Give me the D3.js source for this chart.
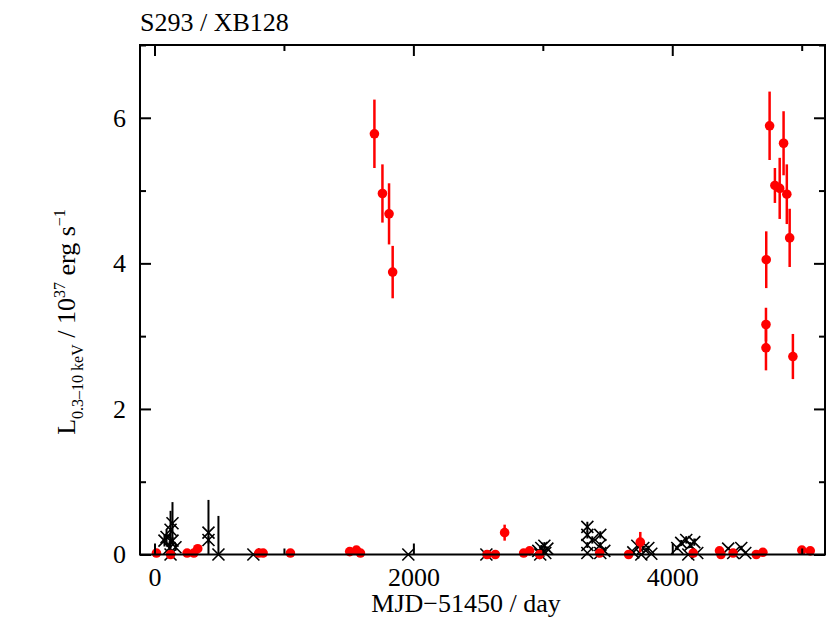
<!DOCTYPE html>
<html><head><meta charset="utf-8">
<script src="https://cdn.jsdelivr.net/npm/d3@7/dist/d3.min.js"></script>
<style>body{margin:0;background:#fff}svg{display:block}text{font-family:"Liberation Serif","Times New Roman",serif;fill:#000}</style>
</head><body><svg id="c" width="830" height="627"></svg>
<script>
// Red: detections (day, L, err)
const redDay = [1699,1761,1812,1840, 4752,4860,4793,4830,4885,4907,4726,4724,4724,4932,
  15,124,252,304,334,806,839,1050,1508,1560,1591,
  2569,2633,2705,2852,2898,2975,3439,
  3663,3753,4162,4365,4376,4470,4649,4700,5001,5066];
const redL = [5.78,4.96,4.68,3.88, 5.89,5.65,5.07,5.03,4.95,4.35,4.05,3.16,2.84,2.72,
  0.02,0.0,0.02,0.02,0.08,0.02,0.02,0.02,0.04,0.06,0.02,
  0.0,0.0,0.30,0.02,0.05,0.0,0.02,
  0.0,0.17,0.02,0.05,0.0,0.02,0.0,0.03,0.06,0.05];
const redErr = [0.47,0.40,0.42,0.36, 0.47,0.44,0.24,0.42,0.41,0.40,0.39,0.23,0.31,0.31,
  0.02,0.02,0.02,0.02,0.03,0.02,0.02,0.02,0.03,0.03,0.02,
  0.02,0.02,0.11,0.02,0.03,0.02,0.02,
  0.02,0.14,0.02,0.03,0.02,0.02,0.02,0.02,0.03,0.03];
// Black crosses (day, L, err)
const crossDay = [77,93,116,124,139,139,162,124, 417,417, 494, 764, 1961, 2564,
  2965,2988,3012,3035,2980,3019,
  3344,3344,3344,3344,3382,3444,3444,3444,3475,
  3699,3730,3776,3815,3761,3838,
  4039,4069,4108,4139,4170,4124,4193,
  4432,4471,4533,4564];
const crossL = [0.19,0.24,0.09,0.34,0.43,0.19,0.10,0.0, 0.30,0.20, 0.0, 0.0, 0.0, 0.0,
  0.05,0.09,0.12,0.08,0.0,0.02,
  0.38,0.27,0.13,0.02,0.20,0.27,0.13,0.02,0.05,
  0.03,0.12,0.09,0.09,0.0,0.01,
  0.09,0.16,0.20,0.13,0.17,0.0,0.02,
  0.08,0.02,0.09,0.02];
const crossErr = [0.08,0.11,0.09,0.26,0.29,0.05,0.05,0.0, 0.45,0.05, 0.53, 0.0, 0.0, 0.0,
  0.02,0.04,0.05,0.03,0.0,0.01,
  0.07,0.05,0.04,0.0,0.05,0.05,0.04,0.0,0.02,
  0.02,0.03,0.03,0.03,0.0,0.0,
  0.03,0.04,0.05,0.04,0.05,0.0,0.0,
  0.02,0.0,0.03,0.0];
const xMajor = [0,2000,4000], xMinor = [1000,3000,5000];
const yMajor = [0,2,4,6], yMinor = [1,3,5,7];

const svg = d3.select("#c");
const L=140,R=825,T=45,B=554.5;
const x = d3.scaleLinear().domain([-112,5180]).range([L,R]);
const y = d3.scaleLinear().domain([0,7]).range([B,T]);

const plot = svg.append("g");
crossDay.forEach((d,i)=>{
  if(crossErr[i]>0) plot.append("line").attr("x1",x(d)).attr("x2",x(d))
    .attr("y1",y(Math.max(0,crossL[i]-crossErr[i]))).attr("y2",y(crossL[i]+crossErr[i]))
    .attr("stroke","#000").attr("stroke-width",2);
});
crossDay.forEach((d,i)=>{
  const cx=x(d), cy=y(crossL[i]), s=6;
  plot.append("path").attr("d",`M${cx-s},${cy-s}L${cx+s},${cy+s}M${cx-s},${cy+s}L${cx+s},${cy-s}`)
    .attr("stroke","#000").attr("stroke-width",1.6).attr("fill","none");
});
redDay.forEach((d,i)=>{
  plot.append("line").attr("x1",x(d)).attr("x2",x(d))
    .attr("y1",y(Math.max(0,redL[i]-redErr[i]))).attr("y2",y(redL[i]+redErr[i]))
    .attr("stroke","#ff0000").attr("stroke-width",2.5);
});
redDay.forEach((d,i)=>{
  plot.append("circle").attr("cx",x(d)).attr("cy",y(redL[i])).attr("r",4.8).attr("fill","#ff0000");
});

function ax(gen, tr, vals, len, labels){
  const g = svg.append("g").attr("transform",tr)
    .call(gen.tickValues(vals).tickSizeInner(-len).tickSizeOuter(0).tickPadding(12)
      .tickFormat(labels? d3.format("d") : ()=>""));
  g.select(".domain").remove();
  g.selectAll(".tick line").attr("stroke","#000").attr("stroke-width",2);
  g.selectAll("text").style("font-size","26px").style("font-family","Liberation Serif");
  return g;
}
const gb = ax(d3.axisBottom(x), `translate(0,${B})`, xMajor, 11, true);
gb.selectAll("text").attr("dy",null).attr("y",31);
ax(d3.axisBottom(x), `translate(0,${B})`, xMinor, 6, false);
ax(d3.axisTop(x), `translate(0,${T})`, xMajor, 11, false);
ax(d3.axisTop(x), `translate(0,${T})`, xMinor, 6, false);
const gl = ax(d3.axisLeft(y), `translate(${L},0)`, yMajor, 11, true);
gl.selectAll("text").attr("x",-14);
ax(d3.axisLeft(y), `translate(${L},0)`, yMinor, 6, false);
ax(d3.axisRight(y), `translate(${R},0)`, yMajor, 11, false);
ax(d3.axisRight(y), `translate(${R},0)`, yMinor, 6, false);

svg.append("rect").attr("x",L).attr("y",T).attr("width",R-L).attr("height",B-T)
  .attr("fill","none").attr("stroke","#000").attr("stroke-width",2);

svg.append("text").attr("x",140).attr("y",31).style("font-size","26px").text("S293 / XB128");
svg.append("text").attr("x",466).attr("y",612).attr("text-anchor","middle").style("font-size","26px").text("MJD\u221251450 / day");

const yl = svg.append("text").attr("transform","translate(75,322) rotate(-90)").attr("text-anchor","middle").style("font-size","26px");
yl.append("tspan").text("L");
yl.append("tspan").attr("dy",8).style("font-size","16px").text("0.3\u201310 keV");
yl.append("tspan").attr("dy",-8).text(" / 10");
yl.append("tspan").attr("dy",-10).style("font-size","16px").text("37");
yl.append("tspan").attr("dy",10).text(" erg s");
yl.append("tspan").attr("dy",-10).style("font-size","16px").text("\u22121");
</script></body></html>
